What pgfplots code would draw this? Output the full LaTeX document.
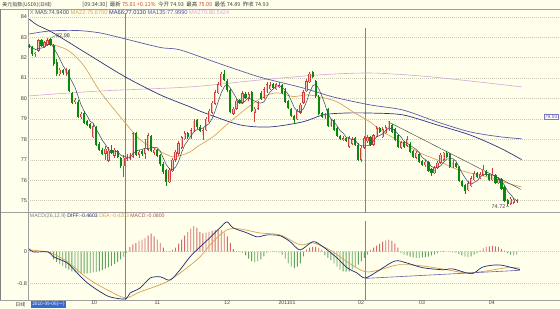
\documentclass[border=0pt]{standalone}
\usepackage{pgfplots}
\pgfplotsset{compat=1.18}
\usepackage{pgfplotstable}
\usepackage{fontspec}
\setmainfont{Liberation Sans}
\newfontfamily\cjk{Noto Sans CJK SC}

\definecolor{bg}{HTML}{FFFFEC}
\definecolor{gridc}{HTML}{CDCDBC}
\definecolor{upred}{HTML}{D23C3C}
\definecolor{upfill}{HTML}{F6C4C0}
\definecolor{dngreen}{HTML}{0A8A0A}
\definecolor{ma5c}{HTML}{3E4E6A}
\definecolor{ma22c}{HTML}{D9A45E}
\definecolor{ma66c}{HTML}{2E3482}
\definecolor{ma135c}{HTML}{5A5AAE}
\definecolor{ma270c}{HTML}{D7A6D6}
\definecolor{cursor}{HTML}{8C7C9C}
\definecolor{difc}{HTML}{1E2A6E}
\definecolor{deac}{HTML}{D8A050}
\definecolor{barred}{HTML}{D06A6A}
\definecolor{bargreen}{HTML}{5EA65E}
\definecolor{framec}{HTML}{A0A0A0}
\definecolor{lab}{HTML}{404040}
\definecolor{trendc}{HTML}{505050}
\definecolor{trendm}{HTML}{6A62B0}
\definecolor{datebg}{HTML}{3A6AC8}

\pgfplotstableread{
i o h l c m
0 82.6 82.65 82.45 82.5 82.6
1 82.5 82.55 82.1 82.2 82.5
2 82.2 82.3 82.05 82.25 82.4
3 82.35 82.9 82.3 82.85 82.45
4 82.85 82.9 82.5 82.55 82.47
5 82.5 82.8 82.45 82.75 82.52
6 82.6 82.95 82.55 82.85 82.65
7 82.9 82.98 82.55 82.6 82.72
8 82.6 82.65 81.6 81.7 82.49
9 81.8 81.95 81.1 81.2 82.22
10 81.2 81.5 81.1 81.4 81.95
11 81.4 81.45 81.15 81.25 81.63
12 81.25 81.5 81.1 81.4 81.39
13 81.4 81.45 80.3 80.35 81.12
14 80.25 80.3 79.75 79.8 80.84
15 79.85 80.05 79.75 79.95 80.55
16 79.85 79.95 79.05 79.1 80.12
17 79.1 79.35 79.0 79.25 79.69
18 79.3 79.4 78.75 78.8 79.38
19 78.9 78.95 78.65 78.7 79.16
20 78.75 78.8 78.5 78.55 78.88
21 78.1 78.75 78.05 78.65 78.79
22 78.6 78.65 77.7 77.75 78.49
23 77.8 77.85 77.45 77.5 78.23
24 77.5 77.6 77.25 77.3 77.95
25 77.3 77.7 77.0 77.55 77.75
26 76.95 77.65 76.9 77.45 77.51
27 77.5 77.75 77.3 77.35 77.43
28 77.2 77.6 77.1 77.5 77.43
29 77.45 77.5 77.1 77.15 77.40
30 77.1 77.15 76.6 76.7 77.23
31 76.7 77.25 76.17 77.1 77.16
32 77.05 77.3 76.95 77.2 77.13
33 77.1 77.35 77.0 77.25 77.08
34 77.15 78.35 77.1 78.3 77.31
35 78.3 78.35 77.2 77.25 77.42
36 77.25 77.5 77.1 77.4 77.48
37 77.45 77.5 77.2 77.3 77.50
38 77.3 78.0 77.05 77.6 77.57
39 77.5 78.3 77.45 78.2 77.55
40 78.15 78.2 77.4 77.45 77.59
41 77.35 77.6 77.25 77.5 77.61
42 77.5 77.55 77.15 77.2 77.59
43 77.25 77.3 76.7 76.8 77.43
44 76.8 76.9 76.3 76.4 77.07
45 76.5 76.55 75.7 75.9 76.76
46 75.9 76.6 75.85 76.5 76.56
47 76.45 77.1 76.4 77.0 76.52
48 77.0 77.5 76.9 77.4 76.64
49 77.3 77.9 77.2 77.8 76.92
50 77.6 78.15 77.55 78.1 77.36
51 78.0 78.4 77.95 78.3 77.72
52 78.3 78.35 78.0 78.1 77.94
53 78.1 78.55 78.0 78.45 78.15
54 78.4 79.0 78.35 78.9 78.37
55 78.95 79.0 78.5 78.6 78.47
56 78.6 78.7 78.35 78.4 78.49
57 78.2 78.55 77.95 78.45 78.56
58 78.45 79.1 78.4 79.0 78.67
59 78.85 79.5 78.8 79.4 78.77
60 79.3 79.9 79.25 79.8 79.01
61 79.75 80.4 79.7 80.3 79.39
62 80.25 80.8 80.2 80.7 79.84
63 80.6 81.3 80.55 81.2 80.28
64 81.2 81.4 80.85 80.9 80.58
65 80.85 80.95 80.3 80.4 80.70
66 80.4 80.45 79.3 79.35 80.51
67 79.25 79.6 79.2 79.5 80.27
68 79.5 80.0 79.45 79.9 80.01
69 79.95 80.0 79.75 79.8 79.79
70 79.8 80.35 79.75 80.25 79.76
71 80.2 80.3 80.0 80.05 79.90
72 80.0 80.3 79.9 80.2 80.04
73 80.3 80.35 79.35 79.4 79.94
74 79.3 79.6 78.85 79.5 79.88
75 79.5 79.9 79.45 79.8 79.79
76 80.25 80.35 79.95 80.0 79.78
77 80.05 80.55 80.0 80.45 79.83
78 80.3 80.8 80.25 80.7 80.09
79 80.45 80.8 80.4 80.65 80.32
80 80.7 80.75 80.45 80.5 80.46
81 80.45 80.75 80.4 80.7 80.60
82 80.55 80.8 80.5 80.65 80.64
83 80.65 80.7 80.2 80.25 80.55
84 80.35 80.5 79.8 79.85 80.39
85 79.9 79.95 79.5 79.55 80.20
86 79.5 79.55 79.1 79.15 79.89
87 79.15 79.2 78.8 78.95 79.55
88 79.0 79.5 78.95 79.4 79.38
89 79.3 79.8 79.25 79.7 79.35
90 79.8 80.4 79.75 80.3 79.50
91 80.35 80.95 80.3 80.85 79.84
92 80.8 81.3 80.75 81.2 80.29
93 81.3 81.35 81.0 81.05 80.62
94 80.85 80.9 80.05 80.1 80.70
95 80.1 80.15 79.2 79.25 80.49
96 79.3 79.35 79.05 79.1 80.14
97 79.1 79.3 79.0 79.2 79.74
98 79.5 79.55 78.6 78.65 79.26
99 78.65 79.0 78.6 78.9 79.02
100 78.95 79.0 78.4 78.45 78.86
101 78.55 78.6 78.1 78.15 78.67
102 78.15 78.2 77.95 78.0 78.43
103 77.95 78.15 77.9 78.05 78.31
104 78.05 78.1 77.85 77.9 78.11
105 77.65 78.15 77.6 78.1 78.04
106 77.8 78.1 77.75 78.0 78.01
107 78.05 78.1 77.7 77.75 77.96
108 77.75 77.8 76.95 77.0 77.75
109 77.0 77.7 76.9 77.6 77.69
110 77.6 78.15 77.55 78.05 77.68
111 77.9 78.2 77.8 78.1 77.70
112 78.1 78.15 77.7 77.75 77.70
113 77.75 78.25 77.7 78.2 77.94
114 78.15 78.65 78.1 78.55 78.13
115 78.55 78.6 78.3 78.35 78.19
116 78.1 78.6 78.05 78.5 78.27
117 78.3 78.7 78.25 78.6 78.44
118 78.45 78.88 78.4 78.8 78.56
119 78.7 78.75 78.3 78.35 78.52
120 78.5 78.55 77.9 77.95 78.44
121 78.2 78.25 77.6 77.65 78.27
122 77.6 77.9 77.55 77.85 78.12
123 77.85 77.9 77.6 77.65 77.89
124 77.7 78.15 77.65 78.0 77.82
125 77.8 77.85 77.35 77.4 77.71
126 77.45 77.5 77.1 77.15 77.61
127 77.1 77.45 77.05 77.35 77.51
128 77.3 77.35 76.85 76.9 77.36
129 76.95 77.0 76.7 76.75 77.11
130 76.75 77.0 76.65 76.9 77.01
131 76.9 76.95 76.4 76.45 76.87
132 76.55 76.6 76.2 76.35 76.67
133 76.35 76.7 76.3 76.6 76.61
134 76.6 76.95 76.55 76.85 76.63
135 76.85 77.35 76.8 77.25 76.70
136 77.0 77.4 76.95 77.35 76.88
137 77.35 77.45 77.1 77.15 77.04
138 77.3 77.35 76.6 76.65 77.05
139 76.65 77.0 76.6 76.9 77.06
140 76.85 76.9 76.6 76.65 76.94
141 76.65 76.7 75.9 75.95 76.66
142 75.95 76.0 75.65 75.7 76.37
143 75.75 75.8 75.35 75.45 76.13
144 75.5 75.95 75.45 75.85 75.92
145 75.7 76.2 75.65 76.1 75.81
146 76.0 76.45 75.95 76.35 75.89
147 76.35 76.4 76.1 76.15 75.98
148 76.1 76.4 76.05 76.3 76.15
149 76.25 76.75 76.2 76.5 76.28
150 76.45 76.5 76.2 76.25 76.31
151 76.3 76.35 75.95 76.0 76.24
152 76.0 76.6 75.95 76.3 76.27
153 76.25 76.3 75.8 75.85 76.18
154 75.85 76.15 75.8 76.05 76.09
155 76.05 76.1 75.5 75.55 75.95
156 75.65 75.7 74.95 75.0 75.75
157 75.05 75.1 74.72 74.85 75.46
158 74.85 75.2 74.8 75.1 75.31
159 74.9 75.15 74.85 75.05 75.11
160 74.93 75.09 74.89 75.01 75.00
}\candles

\pgfplotstableread{
i v
0 0.01
1 0.0
2 -0.01
3 0.0
4 0.01
5 0.0
6 -0.01
7 -0.05
8 -0.2
9 -0.26
10 -0.32
11 -0.37
12 -0.42
13 -0.46
14 -0.5
15 -0.53
16 -0.55
17 -0.55
18 -0.56
19 -0.55
20 -0.54
21 -0.53
22 -0.52
23 -0.5
24 -0.47
25 -0.43
26 -0.4
27 -0.36
28 -0.31
29 -0.26
30 -0.2
31 -0.13
32 -0.04
33 0.12
34 0.18
35 0.22
36 0.27
37 0.3
38 0.34
39 0.4
40 0.45
41 0.38
42 0.3
43 0.22
44 0.1
45 0.01
46 -0.01
47 0.04
48 0.1
49 0.2
50 0.3
51 0.4
52 0.5
53 0.58
54 0.64
55 0.6
56 0.5
57 0.46
58 0.48
59 0.5
60 0.52
61 0.54
62 0.56
63 0.54
64 0.48
65 0.38
66 0.22
67 0.06
68 0.01
69 -0.01
70 -0.03
71 -0.1
72 -0.18
73 -0.24
74 -0.27
75 -0.25
76 -0.2
77 -0.12
78 -0.03
79 0.0
80 0.01
81 -0.01
82 -0.02
83 -0.08
84 -0.18
85 -0.3
86 -0.38
87 -0.42
88 -0.38
89 -0.3
90 -0.12
91 0.05
92 0.1
93 0.12
94 0.12
95 0.09
96 0.05
97 -0.1
98 -0.16
99 -0.22
100 -0.3
101 -0.38
102 -0.46
103 -0.5
104 -0.51
105 -0.5
106 -0.45
107 -0.4
108 -0.33
109 -0.25
110 -0.16
111 -0.08
112 0.04
113 0.1
114 0.15
115 0.2
116 0.25
117 0.28
118 0.3
119 0.27
120 0.2
121 0.1
122 -0.04
123 -0.08
124 -0.1
125 -0.13
126 -0.15
127 -0.16
128 -0.16
129 -0.15
130 -0.14
131 -0.13
132 -0.1
133 -0.07
134 -0.04
135 -0.01
136 0.01
137 0.0
138 -0.01
139 -0.02
140 -0.03
141 -0.06
142 -0.1
143 -0.13
144 -0.14
145 -0.12
146 -0.08
147 -0.04
148 0.02
149 0.08
150 0.11
151 0.13
152 0.14
153 0.13
154 0.11
155 0.07
156 0.02
157 -0.04
158 -0.08
159 -0.1
160 -0.08
}\macdbars

\pgfplotsset{
  panel/.style={scale only axis, width=532bp, xmin=-0.328, xmax=174.1,
    axis line style={draw=none}, major tick length=0pt,
    grid style={gridc, dash pattern=on 1bp off 1bp, line width=0.4bp},
    yticklabel style={font=\fontsize{5.5}{6}\selectfont, text=lab, inner xsep=1.2bp},
    xticklabel style={font=\fontsize{5.2}{6}\selectfont, text=lab, inner sep=0.8bp},
  },
  nomark/.style={only marks, mark=none, mark size=0pt, mark options={draw=none, fill=none}, forget plot},
}

\begin{document}
\begin{tikzpicture}[x=1bp,y=1bp]
\fill[bg] (0,0) rectangle (560,309);
\draw[framec, line width=0.6bp] (0,299.8) -- (560,299.8);
\draw[framec, line width=0.6bp] (0,96) -- (560,96);
\draw[framec, line width=0.6bp] (0,8.8) -- (560,8.8);
\draw[framec, line width=0.6bp] (28,8.8) -- (28,299.8);
\draw[framec!80!black, line width=0.8bp] (0.5,8.8) -- (0.5,299.8);

% ---------------- price panel ----------------
\begin{axis}[panel, at={(28bp,96bp)}, anchor=south west, height=204bp,
  ymin=74.408, ymax=84.384,
  ytick={75,76,77,78,79,80,81,82,83,84},
  yticklabels={75,76,77,78,79,80,81,82,83,84},
  ymajorgrids, xtick=\empty]

\draw[cursor, line width=0.8bp] (axis cs:31.5,74.408) -- (axis cs:31.5,84.2);
\draw[cursor, line width=0.8bp] (axis cs:110.2,74.408) -- (axis cs:110.2,83.45);

% moving averages
\addplot[ma270c, line width=0.6bp, smooth, forget plot] coordinates {
(0,80.13) (23.3,80.37) (52.8,80.57) (75.7,80.91) (95.4,81.16) (111.8,81.25)
(128.2,81.11) (144.6,80.86) (161.6,80.57)};
\addplot[ma135c, line width=0.7bp, smooth, forget plot] coordinates {
(0,83.16) (6.9,83.31) (15.7,83.33) (23.3,83.21) (31.5,82.92) (43,82.5)
(49.5,82.38) (62.6,81.7) (75.7,81.05) (89.8,80.52) (99.7,80.08) (111.8,79.69)
(122.6,79.44) (133.8,78.86) (144.6,78.37) (154.4,78.13) (161.6,78.03)};
\addplot[ma66c, line width=0.7bp, smooth, forget plot] coordinates {
(0,83.89) (2.6,83.6) (7.9,83.21) (19.7,82.13) (31.5,81.06) (43,80.18)
(52.8,79.59) (57.7,79.29) (69.2,78.71) (79,78.61) (89.8,78.86) (96.4,79.2)
(103.6,79.29) (111.8,79.29) (122.6,79.2) (133.8,78.71) (144.6,78.22)
(154.4,77.59) (161.6,77.01)};
\addplot[ma22c, line width=0.7bp, smooth, forget plot] coordinates {
(3.6,82.77) (6.9,82.67) (12.5,82.38) (17.7,81.65) (23.3,80.33) (31.5,78.81)
(36.4,77.98) (40.7,77.59) (47.2,77.15) (52.8,77.39) (55.1,77.64) (60.3,78.13)
(65.9,78.86) (71.5,79.54) (76.7,80.08) (81.3,80.28) (86.6,80.1) (91.1,80.18)
(95.4,80.08) (101,79.84) (106.2,79.35) (111.8,78.86) (116.1,78.37)
(120.7,77.98) (128.2,77.34) (133.8,77.0) (139,76.61) (144.6,76.36)
(150.2,76.17) (155.4,75.92) (161.6,75.67)};
\addplot[trendc, line width=0.5bp, forget plot] coordinates {(117.7,78.87) (161.4,75.55)};

% wicks
\addplot[nomark,
  restrict expr to domain={\thisrow{c}-\thisrow{o}}{0:100},
  error bars/.cd, y dir=both, y explicit, error mark=none,
  error bar style={line width=0.5bp, upred}]
  table[x=i, y=c, y error plus expr={\thisrow{h}-\thisrow{c}}, y error minus expr={\thisrow{c}-\thisrow{l}}]{\candles};
\addplot[nomark,
  restrict expr to domain={\thisrow{c}-\thisrow{o}}{-100:-0.0001},
  error bars/.cd, y dir=both, y explicit, error mark=none,
  error bar style={line width=0.5bp, dngreen}]
  table[x=i, y=c, y error plus expr={\thisrow{h}-\thisrow{c}}, y error minus expr={\thisrow{c}-\thisrow{l}}]{\candles};
% bodies
\addplot[nomark,
  restrict expr to domain={\thisrow{c}-\thisrow{o}}{0:100},
  error bars/.cd, y dir=both, y explicit, error mark=none,
  error bar style={line width=2.2bp, upred}]
  table[x=i, y expr={(\thisrow{o}+\thisrow{c})/2}, y error expr={max(abs(\thisrow{o}-\thisrow{c})/2,0.015)}]{\candles};
\addplot[nomark,
  restrict expr to domain={\thisrow{c}-\thisrow{o}}{0:100},
  error bars/.cd, y dir=both, y explicit, error mark=none,
  error bar style={line width=0.9bp, upfill}]
  table[x=i, y expr={(\thisrow{o}+\thisrow{c})/2}, y error expr={max(abs(\thisrow{o}-\thisrow{c})/2-0.02,0.0)}]{\candles};
\addplot[nomark,
  restrict expr to domain={\thisrow{c}-\thisrow{o}}{-100:-0.0001},
  error bars/.cd, y dir=both, y explicit, error mark=none,
  error bar style={line width=2.2bp, dngreen}]
  table[x=i, y expr={(\thisrow{o}+\thisrow{c})/2}, y error expr={max(abs(\thisrow{o}-\thisrow{c})/2,0.015)}]{\candles};

\addplot[ma5c, line width=0.55bp, mark=none, forget plot] table[x=i, y=m]{\candles};

\draw[lab, line width=0.3bp] (axis cs:7.3,82.98) -- (axis cs:8.6,83.08);
\node[anchor=west, font=\fontsize{5.5}{6}\selectfont, text=lab, inner sep=0.5bp] at (axis cs:8.6,83.1) {82.98};
\draw[lab, line width=0.3bp] (axis cs:156.5,74.71) -- (axis cs:157.6,74.73);
\node[anchor=east, font=\fontsize{5.5}{6}\selectfont, text=lab, inner sep=0.5bp] at (axis cs:156.5,74.70) {74.72};
\node[draw=ma135c!80, fill=white, text=ma135c, font=\fontsize{5}{6}\selectfont, inner sep=0.8bp, line width=0.4bp] at (axis cs:171.3,79.1) {79.93};
\end{axis}

% ---------------- MACD panel ----------------
\begin{axis}[panel, at={(28bp,8.8bp)}, anchor=south west, height=87.2bp,
  ymin=-1.223, ymax=0.98,
  ytick={-0.8,0}, yticklabels={-0.8,0},
  ymajorgrids,
  xtick={21.3,42.0,64.9,84.6,108.9,128.9,151.8},
  xticklabels={10,11,12,201101,02,03,04}]

\draw[cursor, line width=0.8bp] (axis cs:31.5,-1.223) -- (axis cs:31.5,0.98);
\draw[cursor, line width=0.8bp] (axis cs:110.2,-1.223) -- (axis cs:110.2,0.765);

\addplot[ybar, bar width=0.9bp, bar shift=0pt, fill=barred, draw=none, forget plot,
  restrict y to domain=0.0001:5] table[x=i, y=v]{\macdbars};
\addplot[ybar, bar width=0.9bp, bar shift=0pt, fill=bargreen, draw=none, forget plot,
  restrict y to domain=-5:-0.0001] table[x=i, y=v]{\macdbars};

\addplot[deac, line width=0.7bp, smooth, mark=none, forget plot] coordinates {
(0,0.04) (6.9,-0.03) (12.5,-0.26) (19,-0.67) (25.6,-0.97) (31.5,-1.17)
(36.4,-1.02) (43,-0.84) (46.2,-0.72) (51.8,-0.41) (56.1,-0.13) (60.3,0.25)
(64.9,0.55) (69.2,0.57) (75.7,0.47) (82.3,0.42) (88.9,0.17) (93.1,0.22)
(98.7,0.04) (104.3,-0.26) (110.2,-0.51) (115.1,-0.46) (120.7,-0.34)
(125.9,-0.34) (131.5,-0.39) (137,-0.46) (143.6,-0.54) (150.2,-0.49)
(156.7,-0.41) (161,-0.42)};
\addplot[difc, line width=0.7bp, smooth, mark=none, forget plot] coordinates {
(0,0.07) (1.3,-0.01) (6.2,-0.01) (7.9,-0.13) (12.5,-0.29) (15.7,-0.54)
(19,-0.79) (23.3,-1.02) (26.6,-1.15) (31.5,-1.2) (33.1,-1.05) (36.4,-0.92)
(39.7,-0.67) (43,-0.64) (46.2,-0.72) (49.5,-0.46) (52.8,-0.13) (56.1,0.12)
(59.3,0.35) (62.6,0.6) (64.9,0.75) (66.9,0.6) (71.5,0.47) (74.8,0.37)
(78,0.42) (82.3,0.4) (85.6,0.25) (88.9,0.04) (93.1,0.25) (96.4,0.12)
(101,-0.16) (104.3,-0.41) (107.5,-0.54) (110.2,-0.67) (114.1,-0.51)
(120,-0.24) (123.9,-0.29) (129.2,-0.41) (135.7,-0.46) (139,-0.44)
(145.2,-0.56) (148.9,-0.39) (154.4,-0.34) (161,-0.46)};
\addplot[trendm, line width=0.6bp, mark=none, forget plot] coordinates {(110.2,-0.68) (161,-0.475)};
\end{axis}

% ---------------- texts ----------------
\node[anchor=west, font=\cjk\fontsize{5}{6}\selectfont, text=lab, inner sep=0pt] at (2,304.6) {美元指数(USDX)(日线)};
\node[anchor=west, font=\cjk\fontsize{5.5}{6}\selectfont, text=lab, inner sep=0pt] at (82,304.6)
 {[09:34:30]\ \ 最新 \textcolor{upred}{75.01}\ \textcolor{upred}{+0.11\%}\ \ 今开 74.93\ \ 最高 \textcolor{upred}{75.09}\ \ 最低 74.89\ \ 昨收 74.93};
\node[anchor=west, font=\fontsize{5.7}{6.5}\selectfont, inner sep=0pt] at (29.5,296.0)
 {\textcolor{gray}{X}\ \textcolor{ma5c}{MA5:74.9400}\ \textcolor{ma22c}{MA22:75.6700}\ \textcolor{ma66c}{MA66:77.0130}\ \textcolor{ma135c}{MA135:77.9990}\ \textcolor{ma270c}{MA270:80.5424}};
\node[anchor=west, font=\fontsize{5.2}{6}\selectfont, inner sep=0pt] at (29.5,92.4)
 {\textcolor{gray}{MACD(26,12,9)}\ \textcolor{difc}{DIFF:-0.4603}\ \textcolor{deac}{DEA:-0.4203}\ \textcolor{barred!80!black}{MACD:-0.0800}};
\node[font=\cjk\fontsize{5}{6}\selectfont, text=lab, inner sep=0pt] at (20,4.2) {日线};
\node[font=\cjk\fontsize{4.8}{5.5}\selectfont, text=white, fill=datebg, inner xsep=0.8bp, inner ysep=0.6bp, anchor=west] at (31,4.2) {2010-09-06(一)};
\end{tikzpicture}
\end{document}
